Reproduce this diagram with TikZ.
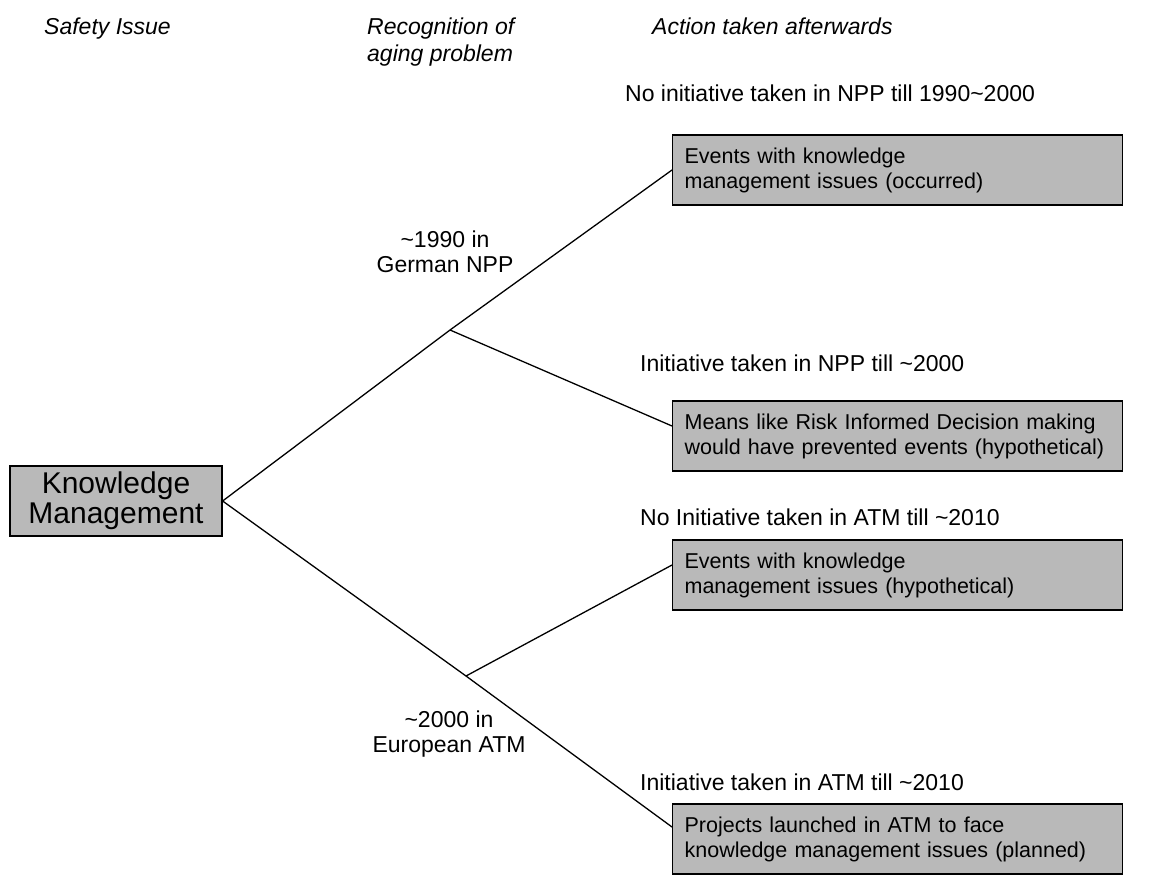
\documentclass[tikz,border=0pt]{standalone}
\usepackage{fontspec}
\setmainfont{Liberation Sans}
\usetikzlibrary{positioning}

\begin{document}
\begin{tikzpicture}[
    x=1pt, y=-1pt,
    base/.style={align=left, inner sep=0pt, font=\fontsize{23}{25}\selectfont},
    header/.style={base, anchor=north west, font=\fontsize{23}{27}\selectfont\itshape},
    caption/.style={base, anchor=west},
    period/.style={base, align=center},
    outcome/.style={draw, line width=1.2pt, fill=gray!55, anchor=west, align=left, text width=426pt, inner xsep=12pt, minimum height=70pt, font=\fontsize{21.5}{25}\selectfont},
    issue/.style={draw, line width=1.2pt, fill=gray!55, align=center, minimum width=212pt, minimum height=70pt, inner sep=2pt, font=\fontsize{30}{30}\selectfont},
    branch/.style={line width=1.3pt}
    ]

    \useasboundingbox (0,0) rectangle (1156,880);

    % --- Cabecera ---
    \node (hIssue) [header] at (44,18) {Safety Issue};
    \node (hRecog) [header] at (367,18) {Recognition of\\aging problem};
    \node (hAction) [header] at (652,18) {Action taken afterwards};

    % --- Tema ---
    \node (km) [issue] at (116,501) {Knowledge\\Management};

    % --- Bifurcaciones ---
    \coordinate (j1) at (450,330);
    \coordinate (j2) at (466,676);

    \node (npp) [period] at (445,252) {\textasciitilde 1990 in\\German NPP};
    \node (atm) [period] at (449,734) {\textasciitilde 2000 in\\European ATM};

    % --- Resultados ---
    \node (box1) [outcome] at (672,170) {Events with knowledge\\management issues (occurred)};
    \node (box2) [outcome] at (672,436) {Means like Risk Informed Decision making\\would have prevented events (hypothetical)};
    \node (box3) [outcome] at (672,575) {Events with knowledge\\management issues (hypothetical)};
    \node (box4) [outcome] at (672,839) {Projects launched in ATM to face\\knowledge management issues (planned)};

    \node (cap1) [caption] at (625,93) {No initiative taken in NPP till 1990\textasciitilde 2000};
    \node (cap2) [caption] at (640,363) {Initiative taken in NPP till \textasciitilde 2000};
    \node (cap3) [caption] at (640,517) {No Initiative taken in ATM till \textasciitilde 2010};
    \node (cap4) [caption] at (640,782) {Initiative taken in ATM till \textasciitilde 2010};

    % --- Ramas ---
    \draw[branch] (km.east) -- (j1) -- (box1.west);
    \draw[branch] (j1) -- ([yshift=10pt]box2.west);
    \draw[branch] (km.east) -- (j2) -- ([yshift=12pt]box4.west);
    \draw[branch] (j2) -- ([yshift=10pt]box3.west);

\end{tikzpicture}
\end{document}
